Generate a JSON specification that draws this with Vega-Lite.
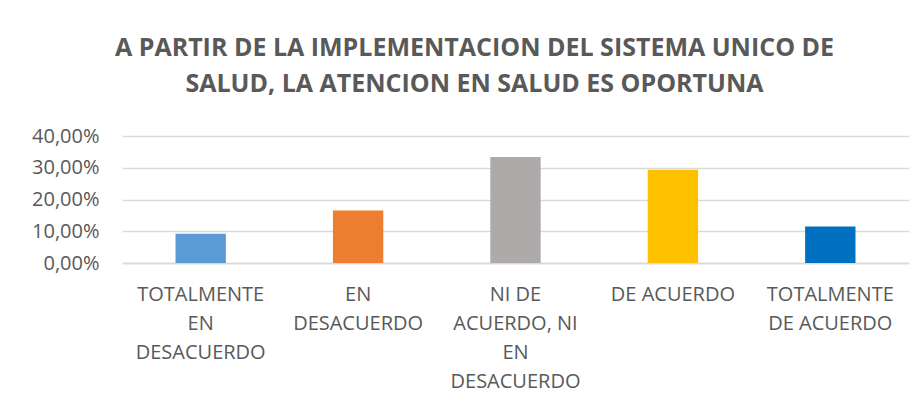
{
  "$schema": "https://vega.github.io/schema/vega-lite/v6.json",
  "autosize": {"type": "none"},
  "padding": {"left": 122, "top": 136, "right": 15, "bottom": 144},
  "width": 787,
  "height": 127,
  "background": "white",
  "title": {
    "text": ["A PARTIR DE LA IMPLEMENTACION DEL SISTEMA UNICO DE", "SALUD, LA ATENCION EN SALUD ES OPORTUNA"],
    "font": "Open Sans",
    "fontSize": 25,
    "fontWeight": "bold",
    "color": "#595959",
    "anchor": "middle",
    "frame": "group",
    "dx": -41,
    "lineHeight": 36,
    "offset": 29
  },
  "data": {
    "values": [
      {"categoria": "TOTALMENTE EN DESACUERDO", "porcentaje": 0.092},
      {"categoria": "EN DESACUERDO", "porcentaje": 0.165},
      {"categoria": "NI DE ACUERDO, NI EN DESACUERDO", "porcentaje": 0.334},
      {"categoria": "DE ACUERDO", "porcentaje": 0.294},
      {"categoria": "TOTALMENTE DE ACUERDO", "porcentaje": 0.115}
    ]
  },
  "mark": {"type": "bar"},
  "encoding": {
    "x": {
      "field": "categoria",
      "type": "nominal",
      "sort": null,
      "scale": {"paddingInner": 0.68, "paddingOuter": 0.34},
      "axis": {
        "title": null,
        "labelAngle": 0,
        "labelFont": "Open Sans",
        "labelFontSize": 20,
        "labelColor": "#595959",
        "labelLineHeight": 29,
        "labelPadding": 21,
        "labelBaseline": "top",
        "ticks": false,
        "domainColor": "#D9D9D9",
        "domainWidth": 1.5,
        "labelExpr": "datum.value == 'TOTALMENTE EN DESACUERDO' ? ['TOTALMENTE', 'EN', 'DESACUERDO'] : datum.value == 'EN DESACUERDO' ? ['EN', 'DESACUERDO'] : datum.value == 'NI DE ACUERDO, NI EN DESACUERDO' ? ['NI DE', 'ACUERDO, NI', 'EN', 'DESACUERDO'] : datum.value == 'TOTALMENTE DE ACUERDO' ? ['TOTALMENTE', 'DE ACUERDO'] : datum.value"
      }
    },
    "y": {
      "field": "porcentaje",
      "type": "quantitative",
      "scale": {"domain": [0, 0.4], "nice": false},
      "axis": {
        "title": null,
        "values": [0, 0.1, 0.2, 0.3, 0.4],
        "labelExpr": "replace(format(datum.value, '.2%'), '.', ',')",
        "labelFont": "Open Sans",
        "labelFontSize": 20,
        "labelColor": "#595959",
        "labelPadding": 23,
        "ticks": false,
        "domain": false,
        "gridColor": "#D9D9D9",
        "gridWidth": 1.5
      }
    },
    "color": {
      "field": "categoria",
      "type": "nominal",
      "legend": null,
      "scale": {
        "domain": ["TOTALMENTE EN DESACUERDO", "EN DESACUERDO", "NI DE ACUERDO, NI EN DESACUERDO", "DE ACUERDO", "TOTALMENTE DE ACUERDO"],
        "range": ["#5B9BD5", "#ED7D31", "#AEAAAA", "#FFC000", "#0070C0"]
      }
    }
  },
  "config": {"view": {"stroke": null}}
}
